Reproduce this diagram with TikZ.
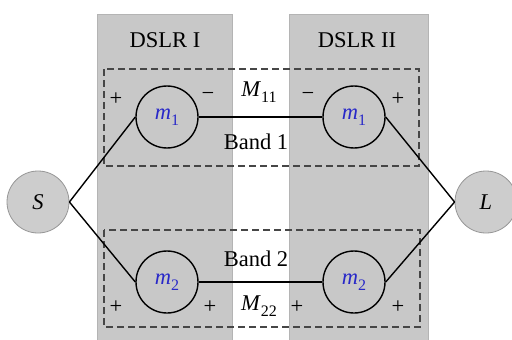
\documentclass[tikz,border=0pt]{standalone}
\usepackage{fontspec}
\setmainfont{Liberation Serif}
\definecolor{boxgray}{RGB}{200,200,200}
\definecolor{termgray}{RGB}{205,205,205}
\definecolor{termedge}{RGB}{150,150,150}
\definecolor{dashgray}{RGB}{70,70,70}
\definecolor{mblue}{RGB}{40,40,200}
\newcommand{\sub}[2]{\textit{#1}\raisebox{-0.28em}{\fontsize{16}{16}\selectfont #2}}
\begin{document}
\begin{tikzpicture}[x=1pt,y=-1pt,
  every node/.style={font=\fontsize{22.5}{25}\selectfont},
  dslr/.style={fill=boxgray, draw=boxgray!90!black, line width=0.6pt},
  band/.style={draw=dashgray, line width=1.2pt, dash pattern=on 7pt off 4pt},
  mnode/.style={circle, draw=black, line width=1.4pt, minimum size=62pt, inner sep=0pt, text=mblue},
  term/.style={circle, fill=termgray, draw=termedge, line width=0.8pt, minimum size=62pt, inner sep=0pt},
  wire/.style={line width=1.4pt, draw=black}]
\useasboundingbox (0,0) rectangle (512,340);
% DSLR columns
\path[dslr] (97,14) rectangle (232,340);
\path[dslr] (289,14) rectangle (428,340);
\node (t1) at (165,40) {DSLR I};
\node (t2) at (357,40) {DSLR II};
% bands
\draw[band] (104,69) rectangle (419,166);
\draw[band] (104,230) rectangle (420,327);
% nodes
\node[term] (S) at (38,202) {\textit{S}};
\node[term] (L) at (486,202) {\textit{L}};
\node[mnode] (a1) at (167,117) {\sub{m}{1}};
\node[mnode] (b1) at (354,117) {\sub{m}{1}};
\node[mnode] (a2) at (167,282) {\sub{m}{2}};
\node[mnode] (b2) at (354,282) {\sub{m}{2}};
% wires
\draw[wire] (S.east) -- (a1.west);
\draw[wire] (S.east) -- (a2.west);
\draw[wire] (b1.east) -- (L.west);
\draw[wire] (b2.east) -- (L.west);
\draw[wire] (a1.east) -- (b1.west);
\draw[wire] (a2.east) -- (b2.west);
% labels
\node (p1) at (116,99) {+};
\node (n1) at (208,96) {\textminus};
\node (M11) at (259,92) {\sub{M}{11}};
\node (n2) at (308,96) {\textminus};
\node (p2) at (398,99) {+};
\node (B1) at (256,142) {Band 1};
\node (B2) at (256,259) {Band 2};
\node (p3) at (116,307) {+};
\node (p4) at (210,307) {+};
\node (M22) at (259,306) {\sub{M}{22}};
\node (p5) at (297,307) {+};
\node (p6) at (398,307) {+};
\end{tikzpicture}
\end{document}
